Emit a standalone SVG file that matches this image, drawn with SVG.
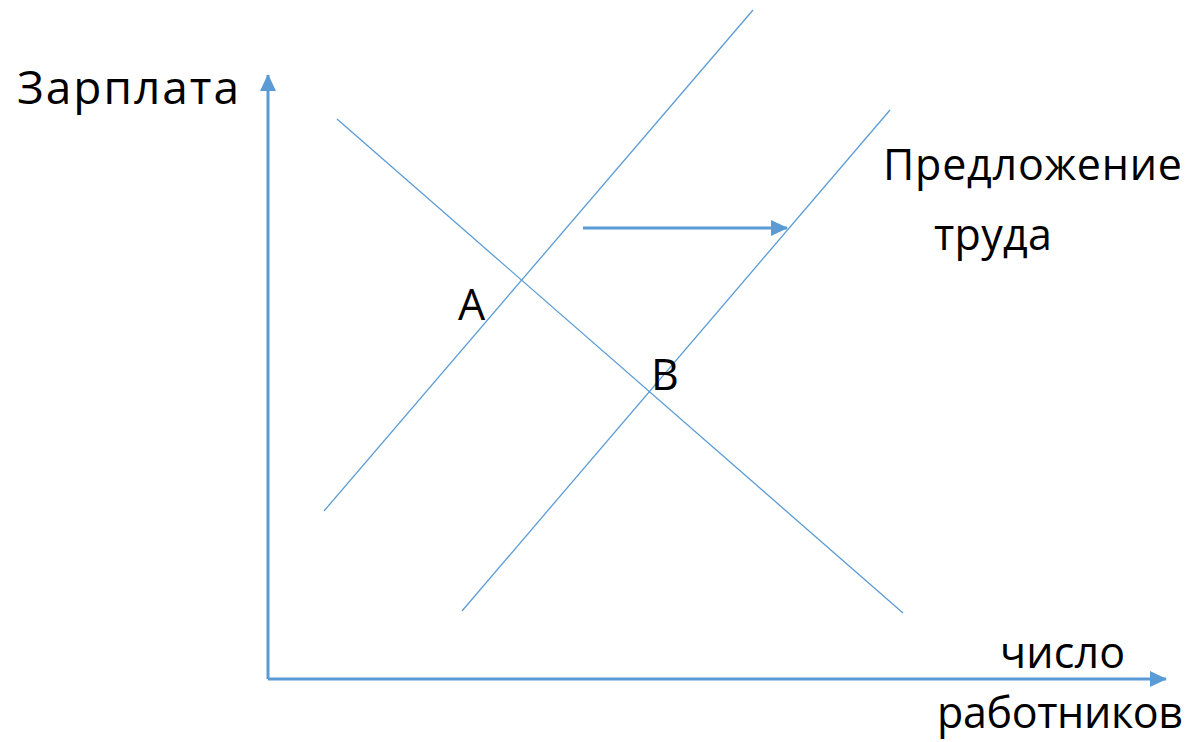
<svg xmlns="http://www.w3.org/2000/svg" width="1191" height="742" viewBox="0 0 1191 742">
<style>
.t{font-family:"Open Sans","Liberation Sans",sans-serif;font-size:43px;fill:#000}
.big{font-size:46px}
.thin{stroke:#5B9BD5;stroke-width:1.3;fill:none}
.axis{stroke:#5B9BD5;stroke-width:3;fill:none}
</style>
<defs>
<marker id="ah" markerUnits="userSpaceOnUse" markerWidth="18" markerHeight="16" refX="16" refY="8" orient="auto">
<path d="M0,0 L17,8 L0,16 Z" fill="#5B9BD5"/>
</marker>
</defs>
<g id="connectors">
<line class="axis" x1="268" y1="679" x2="268" y2="75" marker-end="url(#ah)"/>
<line class="axis" x1="268" y1="679" x2="1166" y2="679" marker-end="url(#ah)"/>
<line class="thin" x1="324" y1="511" x2="753" y2="10"/>
<line class="thin" x1="462" y1="611" x2="890" y2="110"/>
<line class="thin" x1="337" y1="119" x2="903" y2="613"/>
<line class="axis" x1="583" y1="228" x2="787" y2="228" marker-end="url(#ah)"/>
</g>
<g id="label-y"><text class="t big" x="17" y="104" textLength="222">Зарплата</text></g>
<g id="label-supply"><text class="t" x="883" y="180" textLength="299">Предложение</text><text class="t" x="934" y="250" textLength="118">труда</text></g>
<g id="point-a"><text class="t" x="458" y="320">А</text></g>
<g id="point-b"><text class="t" x="651" y="390">В</text></g>
<g id="label-x"><text class="t" x="1000" y="668" textLength="125">число</text><text class="t" x="937" y="728" textLength="246">работников</text></g>
</svg>
